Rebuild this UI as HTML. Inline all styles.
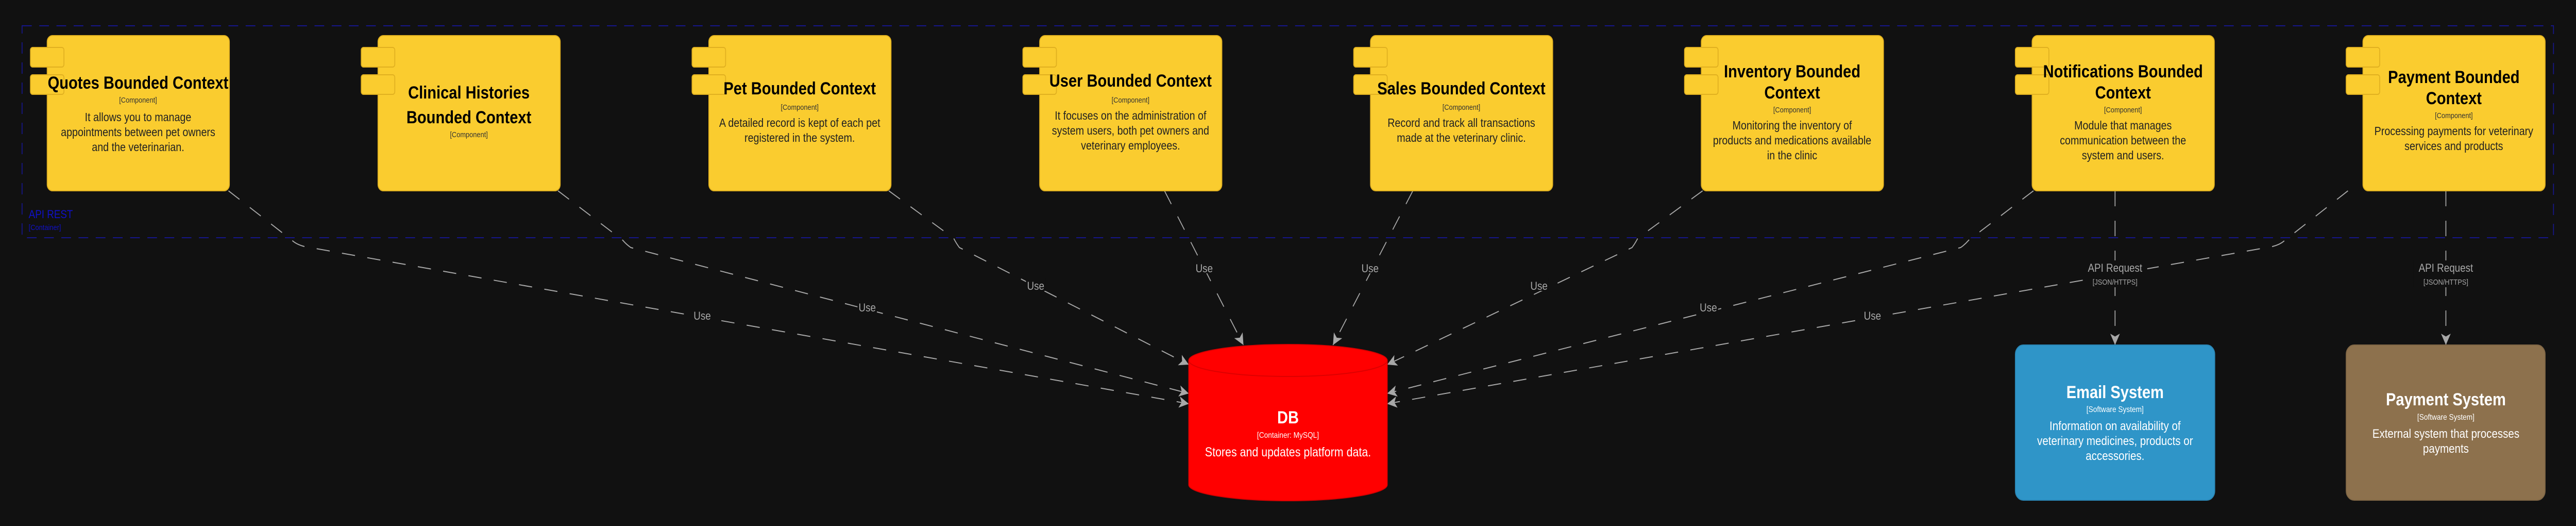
<!DOCTYPE html>
<html><head><meta charset="utf-8"><style>
html,body{margin:0;padding:0;background:#111111;width:100%;height:100%;overflow:hidden;}
svg{display:block;position:absolute;left:0;top:0;width:100vw;height:100vh;}
text{font-family:"Liberation Sans",sans-serif;}
</style></head><body>
<svg viewBox="0 0 5840 1020" preserveAspectRatio="none" xmlns="http://www.w3.org/2000/svg">
<defs>
<marker id="ah2" viewBox="0 0 20 20" markerWidth="22" markerHeight="22" refX="20" refY="10" orient="auto" markerUnits="userSpaceOnUse">
<path d="M0,0 L20,10 L0,20 L5,10 Z" fill="#a8a8a8"/>
</marker>
</defs>
<rect x="0" y="0" width="5840" height="1020" fill="#111111"/>
<rect x="50" y="50" width="5739" height="411" fill="none" stroke="#16168a" stroke-width="2" stroke-dasharray="22,17"/>
<text x="65" y="423" font-size="22" fill="#1010c8">API REST</text>
<text x="65" y="446" font-size="15" fill="#1010c8">[Container]</text>

<g fill="none" stroke="#a8a8a8" stroke-width="2" stroke-dasharray="30,28" marker-end="url(#ah2)">
<path d="M518,370 L662,466 Q672,474 690,478 L2695,783"/>
<path d="M1265,370 L1412,466 Q1420,474 1430,480 L2695,763"/>
<path d="M2015,370 L2162,462 Q2168,472 2175,480 L2695,707"/>
<path d="M2640,370 L2819,669"/>
<path d="M3203,370 L3022,669"/>
<path d="M3860,370 L3713,462 Q3707,472 3700,480 L3145,707"/>
<path d="M4610,370 L4463,466 Q4455,474 4445,480 L3145,763"/>
<path d="M5323,370 L5180,466 Q5170,474 5152,478 L3145,783"/>
<path d="M4795,370 L4795,669"/>
<path d="M5545,370 L5545,669"/>
</g>
<g font-size="22" fill="#a8a8a8" text-anchor="middle">
<rect x="1570" y="598" width="44" height="24" fill="#111"/>
<text x="1592" y="620">Use</text>
<rect x="1944" y="582" width="44" height="24" fill="#111"/>
<text x="1966" y="604">Use</text>
<rect x="2326" y="540" width="44" height="24" fill="#111"/>
<text x="2348" y="562">Use</text>
<rect x="2708" y="506" width="44" height="24" fill="#111"/>
<text x="2730" y="528">Use</text>
<rect x="3084" y="506" width="44" height="24" fill="#111"/>
<text x="3106" y="528">Use</text>
<rect x="3467" y="540" width="44" height="24" fill="#111"/>
<text x="3489" y="562">Use</text>
<rect x="3851" y="582" width="44" height="24" fill="#111"/>
<text x="3873" y="604">Use</text>
<rect x="4223" y="598" width="44" height="24" fill="#111"/>
<text x="4245" y="620">Use</text>
<rect x="4722" y="505" width="146" height="52" fill="#111"/>
<text x="4795" y="527">API Request</text>
<text x="4795" y="552" font-size="15">[JSON/HTTPS]</text>
<rect x="5472" y="505" width="146" height="52" fill="#111"/>
<text x="5545" y="527">API Request</text>
<text x="5545" y="552" font-size="15">[JSON/HTTPS]</text>
</g>

<g stroke="#e0b020" stroke-width="2" fill="#facc2f">
<rect x="107" y="69" width="413" height="301" rx="12"/>
<rect x="69" y="92" width="76" height="38" rx="5"/><rect x="69" y="145" width="76" height="38" rx="5"/>
<rect x="857" y="69" width="413" height="301" rx="12"/>
<rect x="819" y="92" width="76" height="38" rx="5"/><rect x="819" y="145" width="76" height="38" rx="5"/>
<rect x="1607" y="69" width="413" height="301" rx="12"/>
<rect x="1569" y="92" width="76" height="38" rx="5"/><rect x="1569" y="145" width="76" height="38" rx="5"/>
<rect x="2357" y="69" width="413" height="301" rx="12"/>
<rect x="2319" y="92" width="76" height="38" rx="5"/><rect x="2319" y="145" width="76" height="38" rx="5"/>
<rect x="3107" y="69" width="413" height="301" rx="12"/>
<rect x="3069" y="92" width="76" height="38" rx="5"/><rect x="3069" y="145" width="76" height="38" rx="5"/>
<rect x="3857" y="69" width="413" height="301" rx="12"/>
<rect x="3819" y="92" width="76" height="38" rx="5"/><rect x="3819" y="145" width="76" height="38" rx="5"/>
<rect x="4607" y="69" width="413" height="301" rx="12"/>
<rect x="4569" y="92" width="76" height="38" rx="5"/><rect x="4569" y="145" width="76" height="38" rx="5"/>
<rect x="5357" y="69" width="413" height="301" rx="12"/>
<rect x="5319" y="92" width="76" height="38" rx="5"/><rect x="5319" y="145" width="76" height="38" rx="5"/>
</g>
<g fill="#000" text-anchor="middle">
<g font-size="34" font-weight="bold">
<text x="313" y="172">Quotes Bounded Context</text>
<text x="1063" y="191">Clinical Histories</text><text x="1063" y="239">Bounded Context</text>
<text x="1813" y="183">Pet Bounded Context</text>
<text x="2563" y="168">User Bounded Context</text>
<text x="3313" y="183">Sales Bounded Context</text>
<text x="4063" y="150">Inventory Bounded</text><text x="4063" y="191">Context</text>
<text x="4813" y="150">Notifications Bounded</text><text x="4813" y="191">Context</text>
<text x="5563" y="161">Payment Bounded</text><text x="5563" y="202">Context</text>
</g>
<g font-size="15" fill="#333">
<text x="313" y="199">[Component]</text>
<text x="1063" y="266">[Component]</text>
<text x="1813" y="213">[Component]</text>
<text x="2563" y="199">[Component]</text>
<text x="3313" y="213">[Component]</text>
<text x="4063" y="218">[Component]</text>
<text x="4813" y="218">[Component]</text>
<text x="5563" y="229">[Component]</text>
</g>
<g font-size="23" fill="#222">
<text x="313" y="235">It allows you to manage</text>
<text x="313" y="264">appointments between pet owners</text>
<text x="313" y="293">and the veterinarian.</text>
<text x="1813" y="246">A detailed record is kept of each pet</text>
<text x="1813" y="275">registered in the system.</text>
<text x="2563" y="232">It focuses on the administration of</text>
<text x="2563" y="261">system users, both pet owners and</text>
<text x="2563" y="290">veterinary employees.</text>
<text x="3313" y="246">Record and track all transactions</text>
<text x="3313" y="275">made at the veterinary clinic.</text>
<text x="4063" y="251">Monitoring the inventory of</text>
<text x="4063" y="280">products and medications available</text>
<text x="4063" y="309">in the clinic</text>
<text x="4813" y="251">Module that manages</text>
<text x="4813" y="280">communication between the</text>
<text x="4813" y="309">system and users.</text>
<text x="5563" y="262">Processing payments for veterinary</text>
<text x="5563" y="291">services and products</text>
</g>
</g>

<path d="M2695,699 L2695,940 A225,31 0 0 0 3145,940 L3145,699 Z" fill="#ff0000" stroke="#dd0000" stroke-width="2"/>
<ellipse cx="2920" cy="699" rx="225" ry="31" fill="#ff0000" stroke="#dd0000" stroke-width="2"/>
<g fill="#fff" text-anchor="middle">
<text x="2920" y="821" font-size="34" font-weight="bold">DB</text>
<text x="2920" y="849" font-size="16">[Container: MySQL]</text>
<text x="2920" y="885" font-size="25">Stores and updates platform data.</text>
</g>

<rect x="4569" y="669" width="452" height="301" rx="18" fill="#2f95c8" stroke="#2a86b5" stroke-width="2"/>
<rect x="5319" y="669" width="451" height="301" rx="18" fill="#8d714d" stroke="#7f6645" stroke-width="2"/>
<g fill="#fff" text-anchor="middle">
<text x="4795" y="772" font-size="34" font-weight="bold">Email System</text>
<text x="4795" y="799" font-size="16">[Software System]</text>
<text x="4795" y="834" font-size="24">Information on availability of</text>
<text x="4795" y="863" font-size="24">veterinary medicines, products or</text>
<text x="4795" y="892" font-size="24">accessories.</text>
<text x="5545" y="786" font-size="34" font-weight="bold">Payment System</text>
<text x="5545" y="814" font-size="16">[Software System]</text>
<text x="5545" y="849" font-size="24">External system that processes</text>
<text x="5545" y="878" font-size="24">payments</text>
</g>
</svg>
</body></html>
